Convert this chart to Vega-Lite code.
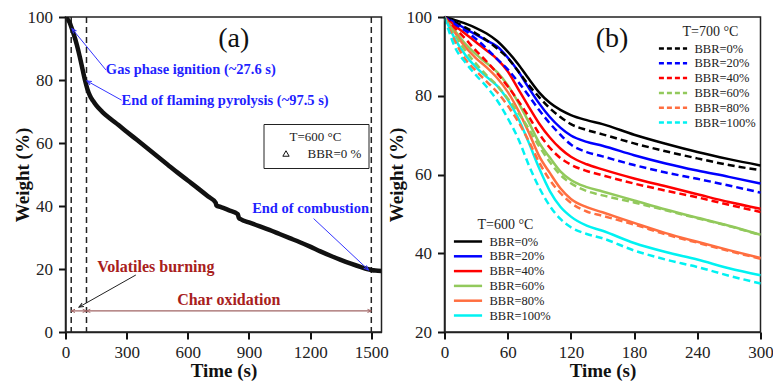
{
"$schema":"https://vega.github.io/schema/vega-lite/v6.json",
"padding":{"top":7,"left":11.5,"right":1,"bottom":0},
"spacing":-4,
"config":{
 "view":{"stroke":"#222","strokeWidth":1.5},
 "font":"Liberation Serif"
},
"datasets":{
 "tga":[{"time":0,"weight":100},{"time":10,"weight":99.3},{"time":20,"weight":98.3},{"time":28,"weight":96.9},{"time":40,"weight":94.6},{"time":55,"weight":91.3},{"time":70,"weight":87.4},{"time":85,"weight":83},{"time":97,"weight":79.6},{"time":107,"weight":77.2},{"time":120,"weight":75},{"time":135,"weight":73.4},{"time":150,"weight":72},{"time":180,"weight":69.9},{"time":220,"weight":67.7},{"time":260,"weight":65.7},{"time":300,"weight":63.6},{"time":350,"weight":61},{"time":400,"weight":58.4},{"time":450,"weight":55.8},{"time":500,"weight":53.2},{"time":550,"weight":50.6},{"time":600,"weight":48.1},{"time":650,"weight":45.6},{"time":700,"weight":43},{"time":737,"weight":41},{"time":740,"weight":40.2},{"time":760,"weight":39.7},{"time":800,"weight":38.7},{"time":845,"weight":37.4},{"time":850,"weight":36.3},{"time":860,"weight":35.8},{"time":900,"weight":34.8},{"time":950,"weight":33.6},{"time":1000,"weight":32.4},{"time":1050,"weight":31.1},{"time":1100,"weight":29.8},{"time":1150,"weight":28.5},{"time":1200,"weight":27.1},{"time":1250,"weight":25.6},{"time":1300,"weight":24.2},{"time":1350,"weight":22.9},{"time":1400,"weight":21.7},{"time":1450,"weight":20.6},{"time":1480,"weight":20},{"time":1500,"weight":19.7},{"time":1520,"weight":19.5},{"time":1550,"weight":19.4}],
 "vlines":[{"time":28},{"time":103},{"time":1500}],
 "notes":[
  {"kind":"blueL","label":"Gas phase ignition (~27.6 s)","time":198,"weight":83.2},
  {"kind":"blueL","label":"End of flaming pyrolysis (~97.5 s)","time":275,"weight":73.3},
  {"kind":"blueC","label":"End of combustion","time":1202,"weight":39},
  {"kind":"red","label":"Volatiles burning","time":443,"weight":20.6},
  {"kind":"red","label":"Char oxidation","time":801,"weight":10.2},
  {"kind":"big","label":"(a)","time":825,"weight":93},
  {"kind":"bigB","label":"(b)","time":159,"weight":94.5}
 ],
 "arrows":[
  {"id":"gas","time":198,"weight":83.2,"time2":32,"weight2":96.3},
  {"id":"flam","time":275,"weight":73.6,"time2":105,"weight2":79.7},
  {"id":"comb","time":1217,"weight":36,"time2":1486,"weight2":19.7},
  {"id":"vol","time":345,"weight":18.1,"time2":66,"weight2":7.9},
  {"id":"seg1","time":28,"weight":6.7,"time2":103,"weight2":6.7},
  {"id":"seg2","time":103,"weight":6.7,"time2":1500,"weight2":6.7}
 ],
 "curves":[
  {"temp":"600","bbr":"BBR=0%","time":0,"weight":100},{"temp":"600","bbr":"BBR=0%","time":10,"weight":99.2},{"temp":"600","bbr":"BBR=0%","time":20,"weight":98.3},{"temp":"600","bbr":"BBR=0%","time":30,"weight":97.2},{"temp":"600","bbr":"BBR=0%","time":40,"weight":95.8},{"temp":"600","bbr":"BBR=0%","time":50,"weight":93.9},{"temp":"600","bbr":"BBR=0%","time":60,"weight":91.2},{"temp":"600","bbr":"BBR=0%","time":70,"weight":88},{"temp":"600","bbr":"BBR=0%","time":80,"weight":84.3},{"temp":"600","bbr":"BBR=0%","time":90,"weight":80.8},{"temp":"600","bbr":"BBR=0%","time":100,"weight":78.2},{"temp":"600","bbr":"BBR=0%","time":110,"weight":76.4},{"temp":"600","bbr":"BBR=0%","time":120,"weight":75.1},{"temp":"600","bbr":"BBR=0%","time":135,"weight":73.8},{"temp":"600","bbr":"BBR=0%","time":150,"weight":72.8},{"temp":"600","bbr":"BBR=0%","time":180,"weight":70.1},{"temp":"600","bbr":"BBR=0%","time":210,"weight":67.8},{"temp":"600","bbr":"BBR=0%","time":240,"weight":65.7},{"temp":"600","bbr":"BBR=0%","time":270,"weight":63.9},{"temp":"600","bbr":"BBR=0%","time":300,"weight":62.3},
  {"temp":"700","bbr":"BBR=0%","time":0,"weight":100},{"temp":"700","bbr":"BBR=0%","time":10,"weight":98.7},{"temp":"700","bbr":"BBR=0%","time":20,"weight":97.3},{"temp":"700","bbr":"BBR=0%","time":30,"weight":95.8},{"temp":"700","bbr":"BBR=0%","time":40,"weight":94.1},{"temp":"700","bbr":"BBR=0%","time":50,"weight":92},{"temp":"700","bbr":"BBR=0%","time":60,"weight":89.6},{"temp":"700","bbr":"BBR=0%","time":70,"weight":86.2},{"temp":"700","bbr":"BBR=0%","time":80,"weight":82.7},{"temp":"700","bbr":"BBR=0%","time":90,"weight":79.6},{"temp":"700","bbr":"BBR=0%","time":100,"weight":76.8},{"temp":"700","bbr":"BBR=0%","time":110,"weight":74.6},{"temp":"700","bbr":"BBR=0%","time":120,"weight":72.8},{"temp":"700","bbr":"BBR=0%","time":135,"weight":71.3},{"temp":"700","bbr":"BBR=0%","time":150,"weight":70.2},{"temp":"700","bbr":"BBR=0%","time":180,"weight":67.9},{"temp":"700","bbr":"BBR=0%","time":210,"weight":65.9},{"temp":"700","bbr":"BBR=0%","time":240,"weight":64.1},{"temp":"700","bbr":"BBR=0%","time":270,"weight":62.4},{"temp":"700","bbr":"BBR=0%","time":300,"weight":61.1},
  {"temp":"600","bbr":"BBR=20%","time":0,"weight":100},{"temp":"600","bbr":"BBR=20%","time":10,"weight":98.6},{"temp":"600","bbr":"BBR=20%","time":20,"weight":97},{"temp":"600","bbr":"BBR=20%","time":30,"weight":95.5},{"temp":"600","bbr":"BBR=20%","time":40,"weight":94},{"temp":"600","bbr":"BBR=20%","time":50,"weight":92.5},{"temp":"600","bbr":"BBR=20%","time":60,"weight":89.7},{"temp":"600","bbr":"BBR=20%","time":70,"weight":86.2},{"temp":"600","bbr":"BBR=20%","time":80,"weight":82},{"temp":"600","bbr":"BBR=20%","time":90,"weight":78},{"temp":"600","bbr":"BBR=20%","time":100,"weight":74.6},{"temp":"600","bbr":"BBR=20%","time":110,"weight":71.9},{"temp":"600","bbr":"BBR=20%","time":120,"weight":69.9},{"temp":"600","bbr":"BBR=20%","time":135,"weight":68.3},{"temp":"600","bbr":"BBR=20%","time":150,"weight":67.3},{"temp":"600","bbr":"BBR=20%","time":180,"weight":64.9},{"temp":"600","bbr":"BBR=20%","time":210,"weight":62.8},{"temp":"600","bbr":"BBR=20%","time":240,"weight":61},{"temp":"600","bbr":"BBR=20%","time":270,"weight":59.4},{"temp":"600","bbr":"BBR=20%","time":300,"weight":57.7},
  {"temp":"700","bbr":"BBR=20%","time":0,"weight":100},{"temp":"700","bbr":"BBR=20%","time":10,"weight":98.2},{"temp":"700","bbr":"BBR=20%","time":20,"weight":96.5},{"temp":"700","bbr":"BBR=20%","time":30,"weight":94.4},{"temp":"700","bbr":"BBR=20%","time":40,"weight":92},{"temp":"700","bbr":"BBR=20%","time":50,"weight":89.3},{"temp":"700","bbr":"BBR=20%","time":60,"weight":86.7},{"temp":"700","bbr":"BBR=20%","time":70,"weight":83.5},{"temp":"700","bbr":"BBR=20%","time":80,"weight":80},{"temp":"700","bbr":"BBR=20%","time":90,"weight":76.3},{"temp":"700","bbr":"BBR=20%","time":100,"weight":73},{"temp":"700","bbr":"BBR=20%","time":110,"weight":70.1},{"temp":"700","bbr":"BBR=20%","time":120,"weight":67.6},{"temp":"700","bbr":"BBR=20%","time":135,"weight":65.7},{"temp":"700","bbr":"BBR=20%","time":150,"weight":64.6},{"temp":"700","bbr":"BBR=20%","time":180,"weight":62.4},{"temp":"700","bbr":"BBR=20%","time":210,"weight":60.5},{"temp":"700","bbr":"BBR=20%","time":240,"weight":58.9},{"temp":"700","bbr":"BBR=20%","time":270,"weight":57.2},{"temp":"700","bbr":"BBR=20%","time":300,"weight":55.4},
  {"temp":"600","bbr":"BBR=40%","time":0,"weight":100},{"temp":"600","bbr":"BBR=40%","time":10,"weight":97.8},{"temp":"600","bbr":"BBR=40%","time":20,"weight":95.7},{"temp":"600","bbr":"BBR=40%","time":30,"weight":93.6},{"temp":"600","bbr":"BBR=40%","time":40,"weight":91.5},{"temp":"600","bbr":"BBR=40%","time":50,"weight":89.3},{"temp":"600","bbr":"BBR=40%","time":60,"weight":86.2},{"temp":"600","bbr":"BBR=40%","time":70,"weight":81.7},{"temp":"600","bbr":"BBR=40%","time":80,"weight":77.2},{"temp":"600","bbr":"BBR=40%","time":90,"weight":72.9},{"temp":"600","bbr":"BBR=40%","time":100,"weight":69.4},{"temp":"600","bbr":"BBR=40%","time":110,"weight":66.6},{"temp":"600","bbr":"BBR=40%","time":120,"weight":64.5},{"temp":"600","bbr":"BBR=40%","time":135,"weight":62.6},{"temp":"600","bbr":"BBR=40%","time":150,"weight":61.3},{"temp":"600","bbr":"BBR=40%","time":180,"weight":59},{"temp":"600","bbr":"BBR=40%","time":210,"weight":57},{"temp":"600","bbr":"BBR=40%","time":240,"weight":55},{"temp":"600","bbr":"BBR=40%","time":270,"weight":53},{"temp":"600","bbr":"BBR=40%","time":300,"weight":51.3},
  {"temp":"700","bbr":"BBR=40%","time":0,"weight":100},{"temp":"700","bbr":"BBR=40%","time":10,"weight":97.2},{"temp":"700","bbr":"BBR=40%","time":20,"weight":94.4},{"temp":"700","bbr":"BBR=40%","time":30,"weight":91.4},{"temp":"700","bbr":"BBR=40%","time":40,"weight":88.7},{"temp":"700","bbr":"BBR=40%","time":50,"weight":85.7},{"temp":"700","bbr":"BBR=40%","time":60,"weight":82.4},{"temp":"700","bbr":"BBR=40%","time":70,"weight":78.7},{"temp":"700","bbr":"BBR=40%","time":80,"weight":74.7},{"temp":"700","bbr":"BBR=40%","time":90,"weight":70.3},{"temp":"700","bbr":"BBR=40%","time":100,"weight":66.8},{"temp":"700","bbr":"BBR=40%","time":110,"weight":64.2},{"temp":"700","bbr":"BBR=40%","time":120,"weight":62.5},{"temp":"700","bbr":"BBR=40%","time":135,"weight":60.9},{"temp":"700","bbr":"BBR=40%","time":150,"weight":59.8},{"temp":"700","bbr":"BBR=40%","time":180,"weight":57.7},{"temp":"700","bbr":"BBR=40%","time":210,"weight":55.9},{"temp":"700","bbr":"BBR=40%","time":240,"weight":54.2},{"temp":"700","bbr":"BBR=40%","time":270,"weight":52.3},{"temp":"700","bbr":"BBR=40%","time":300,"weight":50.5},
  {"temp":"600","bbr":"BBR=60%","time":0,"weight":100},{"temp":"600","bbr":"BBR=60%","time":10,"weight":96.5},{"temp":"600","bbr":"BBR=60%","time":20,"weight":93.1},{"temp":"600","bbr":"BBR=60%","time":30,"weight":90.5},{"temp":"600","bbr":"BBR=60%","time":40,"weight":88.3},{"temp":"600","bbr":"BBR=60%","time":50,"weight":86},{"temp":"600","bbr":"BBR=60%","time":60,"weight":82.7},{"temp":"600","bbr":"BBR=60%","time":70,"weight":78.3},{"temp":"600","bbr":"BBR=60%","time":80,"weight":73.3},{"temp":"600","bbr":"BBR=60%","time":90,"weight":68},{"temp":"600","bbr":"BBR=60%","time":100,"weight":64.3},{"temp":"600","bbr":"BBR=60%","time":110,"weight":60.8},{"temp":"600","bbr":"BBR=60%","time":120,"weight":58.6},{"temp":"600","bbr":"BBR=60%","time":135,"weight":56.8},{"temp":"600","bbr":"BBR=60%","time":150,"weight":55.7},{"temp":"600","bbr":"BBR=60%","time":180,"weight":53.4},{"temp":"600","bbr":"BBR=60%","time":210,"weight":51.1},{"temp":"600","bbr":"BBR=60%","time":240,"weight":49},{"temp":"600","bbr":"BBR=60%","time":270,"weight":47},{"temp":"600","bbr":"BBR=60%","time":300,"weight":44.7},
  {"temp":"700","bbr":"BBR=60%","time":0,"weight":100},{"temp":"700","bbr":"BBR=60%","time":10,"weight":95.5},{"temp":"700","bbr":"BBR=60%","time":20,"weight":91.4},{"temp":"700","bbr":"BBR=60%","time":30,"weight":88.1},{"temp":"700","bbr":"BBR=60%","time":40,"weight":85.2},{"temp":"700","bbr":"BBR=60%","time":50,"weight":82.6},{"temp":"700","bbr":"BBR=60%","time":60,"weight":79.3},{"temp":"700","bbr":"BBR=60%","time":70,"weight":75.7},{"temp":"700","bbr":"BBR=60%","time":80,"weight":71.6},{"temp":"700","bbr":"BBR=60%","time":90,"weight":67.1},{"temp":"700","bbr":"BBR=60%","time":100,"weight":63.2},{"temp":"700","bbr":"BBR=60%","time":110,"weight":59.9},{"temp":"700","bbr":"BBR=60%","time":120,"weight":57.8},{"temp":"700","bbr":"BBR=60%","time":135,"weight":55.8},{"temp":"700","bbr":"BBR=60%","time":150,"weight":54.7},{"temp":"700","bbr":"BBR=60%","time":180,"weight":52.9},{"temp":"700","bbr":"BBR=60%","time":210,"weight":50.9},{"temp":"700","bbr":"BBR=60%","time":240,"weight":48.9},{"temp":"700","bbr":"BBR=60%","time":270,"weight":46.9},{"temp":"700","bbr":"BBR=60%","time":300,"weight":44.6},
  {"temp":"600","bbr":"BBR=80%","time":0,"weight":100},{"temp":"600","bbr":"BBR=80%","time":10,"weight":96},{"temp":"600","bbr":"BBR=80%","time":20,"weight":92.3},{"temp":"600","bbr":"BBR=80%","time":30,"weight":89.5},{"temp":"600","bbr":"BBR=80%","time":40,"weight":87.2},{"temp":"600","bbr":"BBR=80%","time":50,"weight":84.5},{"temp":"600","bbr":"BBR=80%","time":60,"weight":81},{"temp":"600","bbr":"BBR=80%","time":70,"weight":76.3},{"temp":"600","bbr":"BBR=80%","time":80,"weight":70.7},{"temp":"600","bbr":"BBR=80%","time":90,"weight":64.6},{"temp":"600","bbr":"BBR=80%","time":100,"weight":60.4},{"temp":"600","bbr":"BBR=80%","time":110,"weight":56.5},{"temp":"600","bbr":"BBR=80%","time":120,"weight":53.8},{"temp":"600","bbr":"BBR=80%","time":135,"weight":51.7},{"temp":"600","bbr":"BBR=80%","time":150,"weight":50.4},{"temp":"600","bbr":"BBR=80%","time":180,"weight":47.7},{"temp":"600","bbr":"BBR=80%","time":210,"weight":45.1},{"temp":"600","bbr":"BBR=80%","time":240,"weight":42.9},{"temp":"600","bbr":"BBR=80%","time":270,"weight":40.8},{"temp":"600","bbr":"BBR=80%","time":300,"weight":38.8},
  {"temp":"700","bbr":"BBR=80%","time":0,"weight":100},{"temp":"700","bbr":"BBR=80%","time":10,"weight":93.8},{"temp":"700","bbr":"BBR=80%","time":20,"weight":89.2},{"temp":"700","bbr":"BBR=80%","time":30,"weight":86.3},{"temp":"700","bbr":"BBR=80%","time":40,"weight":83.6},{"temp":"700","bbr":"BBR=80%","time":50,"weight":80.9},{"temp":"700","bbr":"BBR=80%","time":60,"weight":77.5},{"temp":"700","bbr":"BBR=80%","time":70,"weight":73.4},{"temp":"700","bbr":"BBR=80%","time":80,"weight":68.5},{"temp":"700","bbr":"BBR=80%","time":90,"weight":63},{"temp":"700","bbr":"BBR=80%","time":100,"weight":58.6},{"temp":"700","bbr":"BBR=80%","time":110,"weight":55.3},{"temp":"700","bbr":"BBR=80%","time":120,"weight":52.8},{"temp":"700","bbr":"BBR=80%","time":135,"weight":50.6},{"temp":"700","bbr":"BBR=80%","time":150,"weight":49.5},{"temp":"700","bbr":"BBR=80%","time":180,"weight":47.3},{"temp":"700","bbr":"BBR=80%","time":210,"weight":44.8},{"temp":"700","bbr":"BBR=80%","time":240,"weight":42.7},{"temp":"700","bbr":"BBR=80%","time":270,"weight":40.6},{"temp":"700","bbr":"BBR=80%","time":300,"weight":38.6},
  {"temp":"600","bbr":"BBR=100%","time":0,"weight":100},{"temp":"600","bbr":"BBR=100%","time":10,"weight":94.4},{"temp":"600","bbr":"BBR=100%","time":20,"weight":90.3},{"temp":"600","bbr":"BBR=100%","time":30,"weight":87.2},{"temp":"600","bbr":"BBR=100%","time":40,"weight":84.8},{"temp":"600","bbr":"BBR=100%","time":50,"weight":82.5},{"temp":"600","bbr":"BBR=100%","time":60,"weight":79},{"temp":"600","bbr":"BBR=100%","time":70,"weight":74.3},{"temp":"600","bbr":"BBR=100%","time":80,"weight":68.1},{"temp":"600","bbr":"BBR=100%","time":90,"weight":61.5},{"temp":"600","bbr":"BBR=100%","time":100,"weight":55.8},{"temp":"600","bbr":"BBR=100%","time":110,"weight":51.8},{"temp":"600","bbr":"BBR=100%","time":120,"weight":49.3},{"temp":"600","bbr":"BBR=100%","time":135,"weight":47},{"temp":"600","bbr":"BBR=100%","time":150,"weight":45.7},{"temp":"600","bbr":"BBR=100%","time":180,"weight":42.6},{"temp":"600","bbr":"BBR=100%","time":210,"weight":40.3},{"temp":"600","bbr":"BBR=100%","time":240,"weight":38.4},{"temp":"600","bbr":"BBR=100%","time":270,"weight":36.2},{"temp":"600","bbr":"BBR=100%","time":300,"weight":34.4},
  {"temp":"700","bbr":"BBR=100%","time":0,"weight":100},{"temp":"700","bbr":"BBR=100%","time":10,"weight":92.3},{"temp":"700","bbr":"BBR=100%","time":20,"weight":88.4},{"temp":"700","bbr":"BBR=100%","time":30,"weight":85.2},{"temp":"700","bbr":"BBR=100%","time":40,"weight":82.3},{"temp":"700","bbr":"BBR=100%","time":50,"weight":78.8},{"temp":"700","bbr":"BBR=100%","time":60,"weight":74.3},{"temp":"700","bbr":"BBR=100%","time":70,"weight":69.1},{"temp":"700","bbr":"BBR=100%","time":80,"weight":62.4},{"temp":"700","bbr":"BBR=100%","time":90,"weight":56.6},{"temp":"700","bbr":"BBR=100%","time":100,"weight":52},{"temp":"700","bbr":"BBR=100%","time":110,"weight":48.7},{"temp":"700","bbr":"BBR=100%","time":120,"weight":46.6},{"temp":"700","bbr":"BBR=100%","time":135,"weight":44.9},{"temp":"700","bbr":"BBR=100%","time":150,"weight":43.8},{"temp":"700","bbr":"BBR=100%","time":180,"weight":40.7},{"temp":"700","bbr":"BBR=100%","time":210,"weight":38.4},{"temp":"700","bbr":"BBR=100%","time":240,"weight":36.5},{"temp":"700","bbr":"BBR=100%","time":270,"weight":34.3},{"temp":"700","bbr":"BBR=100%","time":300,"weight":32.3}
 ]
},
"hconcat":[
 {
  "width":316,"height":315,
  "layer":[
   {"data":{"name":"vlines"},"mark":{"type":"rule","strokeDash":[6,4],"color":"#222","strokeWidth":1.5},
    "encoding":{"x":{"field":"time","type":"quantitative"}}},
   {"data":{"name":"tga"},"mark":{"type":"line","strokeWidth":4.5,"interpolate":"monotone","clip":true},
    "encoding":{
     "x":{"field":"time","type":"quantitative","scale":{"domain":[0,1550],"nice":false,"zero":false},
      "axis":{"title":"Time (s)","values":[0,300,600,900,1200,1500],"format":"d","zindex":1,"ticks":true,"tickColor":"#111","tickWidth":2,"tickSize":7,"domainColor":"#222","domainWidth":1.5,"labelOverlap":false,"labelFlush":false,"labelBound":false,"labelFont":"Liberation Serif","labelFontSize":17,"labelColor":"#222","labelPadding":5,"titleFont":"Liberation Serif","titleFontSize":19,"titleFontWeight":"bold","titleColor":"#111","titlePadding":1,"grid":false}},
     "y":{"field":"weight","type":"quantitative","scale":{"domain":[0,100],"nice":false},
      "axis":{"title":"Weight (%)","values":[0,10,20,30,40,50,60,70,80,90,100],"zindex":1,"ticks":true,"tickColor":"#111","tickWidth":2,"tickSize":7,"domainColor":"#222","domainWidth":1.5,"labelOverlap":false,"labelFlush":false,"labelBound":false,"labelFont":"Liberation Serif","labelFontSize":17,"labelColor":"#222","labelPadding":6,"titleFont":"Liberation Serif","titleFontSize":19,"titleFontWeight":"bold","titleColor":"#111","titlePadding":-5,"grid":false}},
     "color":{"datum":"BBR=0 %","type":"nominal","scale":{"range":["#111111"]},
      "legend":{"title":"T=600 °C","orient":"none","legendX":198,"legendY":107,"padding":7,"strokeColor":"#222","fillColor":"white","symbolType":"triangle-up","symbolSize":40,"symbolStrokeWidth":1,"symbolFillColor":"white","symbolStrokeColor":"#222","symbolOffset":9,"labelOffset":15,"titleAnchor":"middle","titlePadding":3,"labelFont":"Liberation Serif","titleFont":"Liberation Serif","labelFontSize":13,"titleFontSize":13,"titleFontWeight":"normal","labelColor":"#222","titleColor":"#222"}}
    }},
   {"data":{"name":"arrows"},"transform":[{"filter":"datum.id === 'gas' || datum.id === 'flam' || datum.id === 'comb'"}],"mark":{"type":"rule","color":"#3535ff","strokeWidth":1},
    "encoding":{"x":{"field":"time","type":"quantitative"},"y":{"field":"weight","type":"quantitative"},"x2":{"field":"time2"},"y2":{"field":"weight2"}}},
   {"data":{"name":"arrows"},"transform":[{"filter":"datum.id === 'vol'"}],"mark":{"type":"rule","color":"#222","strokeWidth":1},
    "encoding":{"x":{"field":"time","type":"quantitative"},"y":{"field":"weight","type":"quantitative"},"x2":{"field":"time2"},"y2":{"field":"weight2"}}},
   {"data":{"name":"arrows"},"transform":[{"filter":"datum.id === 'seg1' || datum.id === 'seg2'"}],"mark":{"type":"rule","color":"#a06464","strokeWidth":1.2},
    "encoding":{"x":{"field":"time","type":"quantitative"},"y":{"field":"weight","type":"quantitative"},"x2":{"field":"time2"},"y2":{"field":"weight2"}}},
   {"data":{"name":"arrows"},"transform":[{"filter":"datum.id === 'gas'"}],"mark":{"type":"point","shape":"M-0.5,1.2L0,0L0.5,1.2","filled":false,"size":60,"angle":320,"strokeWidth":1,"color":"#3535ff","opacity":1},
    "encoding":{"x":{"field":"time2","type":"quantitative"},"y":{"field":"weight2","type":"quantitative"}}},
   {"data":{"name":"arrows"},"transform":[{"filter":"datum.id === 'flam'"}],"mark":{"type":"point","shape":"M-0.5,1.2L0,0L0.5,1.2","filled":false,"size":60,"angle":299,"strokeWidth":1,"color":"#3535ff","opacity":1},
    "encoding":{"x":{"field":"time2","type":"quantitative"},"y":{"field":"weight2","type":"quantitative"}}},
   {"data":{"name":"arrows"},"transform":[{"filter":"datum.id === 'comb'"}],"mark":{"type":"point","shape":"M-0.5,1.2L0,0L0.5,1.2","filled":false,"size":60,"angle":133,"strokeWidth":1,"color":"#3535ff","opacity":1},
    "encoding":{"x":{"field":"time2","type":"quantitative"},"y":{"field":"weight2","type":"quantitative"}}},
   {"data":{"name":"arrows"},"transform":[{"filter":"datum.id === 'vol'"}],"mark":{"type":"point","shape":"M-0.5,1.2L0,0L0.5,1.2","filled":false,"size":60,"angle":241,"strokeWidth":1,"color":"#222","opacity":1},
    "encoding":{"x":{"field":"time2","type":"quantitative"},"y":{"field":"weight2","type":"quantitative"}}},
   {"data":{"name":"arrows"},"transform":[{"filter":"datum.id === 'seg1' || datum.id === 'seg2'"}],"mark":{"type":"point","shape":"M-0.5,1.2L0,0L0.5,1.2","filled":false,"size":40,"angle":270,"strokeWidth":1,"color":"#a06464","opacity":1},
    "encoding":{"x":{"field":"time","type":"quantitative"},"y":{"field":"weight","type":"quantitative"}}},
   {"data":{"name":"arrows"},"transform":[{"filter":"datum.id === 'seg1' || datum.id === 'seg2'"}],"mark":{"type":"point","shape":"M-0.5,1.2L0,0L0.5,1.2","filled":false,"size":40,"angle":90,"strokeWidth":1,"color":"#a06464","opacity":1},
    "encoding":{"x":{"field":"time2","type":"quantitative"},"y":{"field":"weight2","type":"quantitative"}}},
   {"data":{"name":"notes"},"transform":[{"filter":"datum.kind === 'blueL'"}],"mark":{"type":"text","align":"left","baseline":"middle","fontWeight":"bold","fontSize":14.5,"color":"#1f1fff","font":"Liberation Serif"},
    "encoding":{"x":{"field":"time","type":"quantitative"},"y":{"field":"weight","type":"quantitative"},"text":{"field":"label"}}},
   {"data":{"name":"notes"},"transform":[{"filter":"datum.kind === 'blueC'"}],"mark":{"type":"text","align":"center","baseline":"middle","fontWeight":"bold","fontSize":14.5,"color":"#1f1fff","font":"Liberation Serif"},
    "encoding":{"x":{"field":"time","type":"quantitative"},"y":{"field":"weight","type":"quantitative"},"text":{"field":"label"}}},
   {"data":{"name":"notes"},"transform":[{"filter":"datum.kind === 'red'"}],"mark":{"type":"text","align":"center","baseline":"middle","fontWeight":"bold","fontSize":16,"color":"#a8201c","font":"Liberation Serif"},
    "encoding":{"x":{"field":"time","type":"quantitative"},"y":{"field":"weight","type":"quantitative"},"text":{"field":"label"}}},
   {"data":{"name":"notes"},"transform":[{"filter":"datum.kind === 'big'"}],"mark":{"type":"text","align":"center","baseline":"middle","fontSize":28,"color":"#111","font":"Liberation Serif"},
    "encoding":{"x":{"field":"time","type":"quantitative"},"y":{"field":"weight","type":"quantitative"},"text":{"field":"label"}}}
  ]
 },
 {
  "width":316,"height":315,
  "resolve":{"scale":{"color":"independent"}},
  "layer":[
   {"data":{"name":"curves"},"transform":[{"filter":"datum.temp === '600'"}],"mark":{"type":"line","strokeWidth":2.5,"interpolate":"monotone"},
    "encoding":{
     "x":{"field":"time","type":"quantitative","scale":{"domain":[0,300],"nice":false},
      "axis":{"title":"Time (s)","values":[0,60,120,180,240,300],"format":"d","zindex":1,"ticks":true,"tickColor":"#111","tickWidth":2,"tickSize":7,"domainColor":"#222","domainWidth":1.5,"labelOverlap":false,"labelFlush":false,"labelBound":false,"labelFont":"Liberation Serif","labelFontSize":17,"labelColor":"#222","labelPadding":5,"titleFont":"Liberation Serif","titleFontSize":19,"titleFontWeight":"bold","titleColor":"#111","titlePadding":1,"grid":false}},
     "y":{"field":"weight","type":"quantitative","scale":{"domain":[20,100],"nice":false,"zero":false},
      "axis":{"title":"Weight (%)","values":[20,30,40,50,60,70,80,90,100],"zindex":1,"ticks":true,"tickColor":"#111","tickWidth":2,"tickSize":7,"domainColor":"#222","domainWidth":1.5,"labelOverlap":false,"labelFlush":false,"labelBound":false,"labelFont":"Liberation Serif","labelFontSize":17,"labelColor":"#222","labelPadding":6,"titleFont":"Liberation Serif","titleFontSize":19,"titleFontWeight":"bold","titleColor":"#111","titlePadding":0,"grid":false}},
     "color":{"field":"bbr","type":"nominal","scale":{"domain":["BBR=0%","BBR=20%","BBR=40%","BBR=60%","BBR=80%","BBR=100%"],"range":["#000000","#0000ff","#ff0000","#92c95c","#ff6e40","#00f2f2"]},
      "legend":{"title":"T=600 °C","orient":"none","legendX":16,"legendY":201,"padding":0,"symbolType":"M-2.3,0L2.3,0","symbolSize":150,"symbolStrokeWidth":2.5,"labelOffset":14,"rowPadding":0.8,"titlePadding":2,"titleAnchor":"middle","labelFont":"Liberation Serif","titleFont":"Liberation Serif","labelFontSize":12.5,"titleFontSize":14,"titleFontWeight":"normal","labelColor":"#222","titleColor":"#222"}}
    }},
   {"data":{"name":"curves"},"transform":[{"filter":"datum.temp === '700'"}],"mark":{"type":"line","strokeWidth":2.5,"strokeDash":[7,4],"interpolate":"monotone"},
    "encoding":{
     "x":{"field":"time","type":"quantitative"},
     "y":{"field":"weight","type":"quantitative"},
     "color":{"field":"bbr","type":"nominal","scale":{"domain":["BBR=0%","BBR=20%","BBR=40%","BBR=60%","BBR=80%","BBR=100%"],"range":["#000000","#0000ff","#ff0000","#92c95c","#ff6e40","#00f2f2"]},
      "legend":{"title":"T=700 °C","orient":"none","legendX":221,"legendY":8,"padding":0,"symbolType":"M-2.3,0L2.3,0","symbolSize":150,"symbolStrokeWidth":2.5,"symbolDash":[5,3],"labelOffset":14,"rowPadding":0.8,"titlePadding":2,"titleAnchor":"middle","labelFont":"Liberation Serif","titleFont":"Liberation Serif","labelFontSize":12.5,"titleFontSize":14,"titleFontWeight":"normal","labelColor":"#222","titleColor":"#222"}}
    }},
   {"data":{"name":"notes"},"transform":[{"filter":"datum.kind === 'bigB'"}],"mark":{"type":"text","align":"center","baseline":"middle","fontSize":28,"color":"#111","font":"Liberation Serif"},
    "encoding":{"x":{"field":"time","type":"quantitative"},"y":{"field":"weight","type":"quantitative"},"text":{"field":"label"}}}
  ]
 }
]
}
